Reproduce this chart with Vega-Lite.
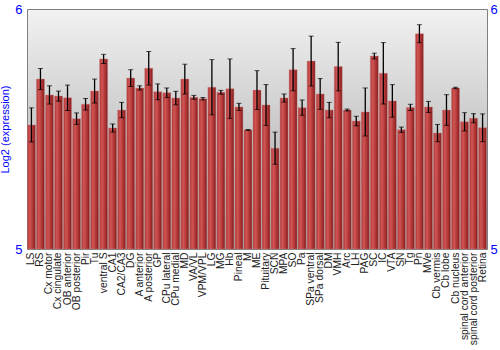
{
  "$schema": "https://vega.github.io/schema/vega-lite/v6.json",
  "width": 460,
  "height": 240,
  "autosize": {"type": "none"},
  "padding": {"left": 27, "top": 9, "right": 13, "bottom": 101},
  "background": "white",
  "config": {
    "font": "Liberation Sans",
    "view": {
      "stroke": "#808080",
      "strokeWidth": 1,
      "fill": {"gradient": "linear", "x1": 0, "y1": 0, "x2": 0, "y2": 1, "stops": [{"offset": 0, "color": "#f2f2f2"}, {"offset": 1, "color": "#a0a0a0"}]}
    }
  },
  "data": {
    "values": [
      {"region": "LS", "mean": 5.517, "err": 0.071},
      {"region": "RS", "mean": 5.708, "err": 0.044},
      {"region": "Cx motor", "mean": 5.642, "err": 0.038},
      {"region": "Cx cingulate", "mean": 5.637, "err": 0.021},
      {"region": "OB anterior", "mean": 5.630, "err": 0.053},
      {"region": "OB posterior", "mean": 5.543, "err": 0.024},
      {"region": "Pir", "mean": 5.603, "err": 0.024},
      {"region": "Tu", "mean": 5.658, "err": 0.050},
      {"region": "ventral S", "mean": 5.792, "err": 0.019},
      {"region": "CA1", "mean": 5.504, "err": 0.017},
      {"region": "CA2/CA3", "mean": 5.579, "err": 0.032},
      {"region": "DG", "mean": 5.712, "err": 0.035},
      {"region": "A anterior", "mean": 5.671, "err": 0.009},
      {"region": "A posterior", "mean": 5.753, "err": 0.070},
      {"region": "GP", "mean": 5.655, "err": 0.033},
      {"region": "CPu lateral", "mean": 5.651, "err": 0.020},
      {"region": "CPu medial", "mean": 5.629, "err": 0.028},
      {"region": "MD", "mean": 5.708, "err": 0.062},
      {"region": "VA/VL", "mean": 5.632, "err": 0.008},
      {"region": "VPM/VPL", "mean": 5.626, "err": 0.005},
      {"region": "LG", "mean": 5.674, "err": 0.115},
      {"region": "MG", "mean": 5.653, "err": 0.008},
      {"region": "Hb", "mean": 5.668, "err": 0.124},
      {"region": "Pineal", "mean": 5.592, "err": 0.015},
      {"region": "M", "mean": 5.496, "err": 0.002},
      {"region": "ME", "mean": 5.662, "err": 0.081},
      {"region": "Pituitary", "mean": 5.600, "err": 0.085},
      {"region": "SCN", "mean": 5.420, "err": 0.067},
      {"region": "MPA", "mean": 5.629, "err": 0.017},
      {"region": "SO", "mean": 5.747, "err": 0.088},
      {"region": "Pa", "mean": 5.589, "err": 0.032},
      {"region": "SPa ventral", "mean": 5.783, "err": 0.104},
      {"region": "SPa dorsal", "mean": 5.646, "err": 0.064},
      {"region": "DM", "mean": 5.579, "err": 0.032},
      {"region": "VMH", "mean": 5.760, "err": 0.101},
      {"region": "Arc", "mean": 5.579, "err": 0.004},
      {"region": "LH", "mean": 5.533, "err": 0.020},
      {"region": "PAG", "mean": 5.571, "err": 0.100},
      {"region": "SC", "mean": 5.804, "err": 0.012},
      {"region": "IC", "mean": 5.732, "err": 0.128},
      {"region": "VTA", "mean": 5.617, "err": 0.068},
      {"region": "SN", "mean": 5.497, "err": 0.011},
      {"region": "Tg", "mean": 5.590, "err": 0.013},
      {"region": "Pn", "mean": 5.897, "err": 0.0375},
      {"region": "MVe", "mean": 5.592, "err": 0.023},
      {"region": "Cb vermis", "mean": 5.483, "err": 0.036},
      {"region": "Cb lobe", "mean": 5.579, "err": 0.064},
      {"region": "Cb nucleus", "mean": 5.671, "err": 0.003},
      {"region": "spinal cord anterior", "mean": 5.530, "err": 0.038},
      {"region": "spinal cord posterior", "mean": 5.545, "err": 0.019},
      {"region": "Retina", "mean": 5.505, "err": 0.058}
    ]
  },
  "encoding": {
    "x": {
      "field": "region",
      "type": "nominal",
      "sort": null,
      "scale": {"paddingInner": 0.12, "paddingOuter": 0.05},
      "axis": {
        "title": null,
        "labelAngle": -90,
        "labelAlign": "right",
        "labelBaseline": "middle",
        "labelFontSize": 10.3,
        "labelColor": "#222222",
        "labelPadding": 3,
        "ticks": false,
        "domain": false,
        "labelOverlap": false
      }
    }
  },
  "layer": [
    {
      "mark": {
        "type": "bar",
        "color": {"gradient": "linear", "x1": 0, "y1": 0, "x2": 1, "y2": 0, "stops": [{"offset": 0, "color": "#a83535"}, {"offset": 0.3, "color": "#d25555"}, {"offset": 0.75, "color": "#a83030"}, {"offset": 1, "color": "#7a1a1a"}]},
        "stroke": "#d08080",
        "strokeWidth": 0.6,
        "strokeOpacity": 0.7
      },
      "encoding": {
        "y": {
          "field": "mean",
          "type": "quantitative",
          "scale": {"domain": [5, 6], "nice": false, "zero": false},
          "axis": {
            "orient": "left",
            "values": [5, 6],
            "format": "d",
            "title": "Log2 (expression)",
            "titleColor": "#0000ff",
            "titleFontSize": 11,
            "titleFontWeight": "normal",
            "titlePadding": 4,
            "labelColor": "#0000ff",
            "labelFontSize": 13,
            "labelPadding": 5,
            "labelFlush": false,
            "ticks": false,
            "domain": false,
            "grid": false
          }
        },
        "y2": {"datum": 5}
      }
    },
    {
      "mark": {
        "type": "errorbar",
        "color": "black",
        "ticks": {"size": 5, "color": "black"},
        "rule": {"color": "black", "strokeWidth": 1.3}
      },
      "encoding": {
        "y": {
          "field": "mean",
          "type": "quantitative",
          "axis": {
            "orient": "right",
            "values": [5, 6],
            "format": "d",
            "title": null,
            "labelColor": "#0000ff",
            "labelFontSize": 13,
            "labelPadding": 3,
            "labelFlush": false,
            "ticks": false,
            "domain": false,
            "grid": false
          }
        },
        "yError": {"field": "err"}
      }
    }
  ],
  "resolve": {"axis": {"y": "independent"}}
}
